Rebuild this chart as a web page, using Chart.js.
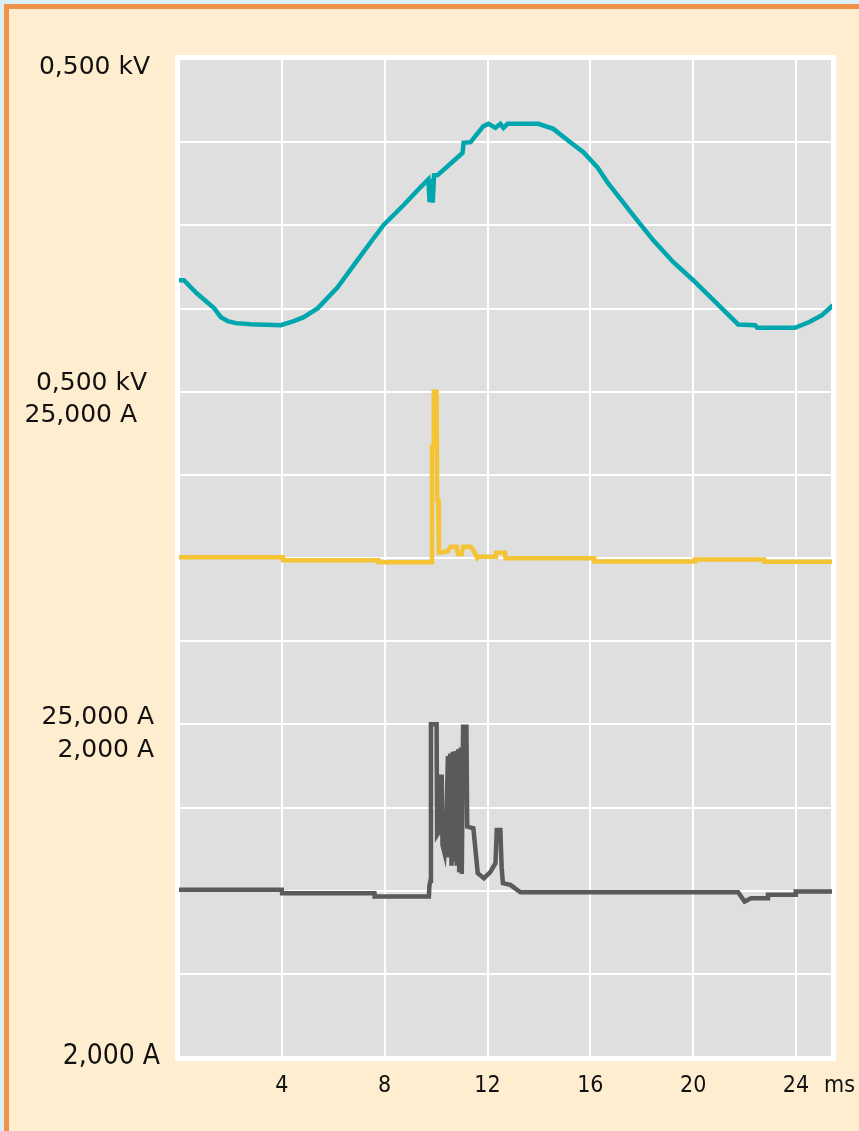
<!DOCTYPE html>
<html>
<head>
<meta charset="utf-8">
<script src="https://cdn.jsdelivr.net/npm/chart.js@4/dist/chart.umd.min.js"></script>
<style>
  body { margin: 0; background: #dbeef3; width: 859px; height: 1131px; overflow: hidden; }
  .frame { position: absolute; left: 4px; top: 4px; width: 855px; height: 1127px; box-sizing: border-box;
           border-left: 5px solid #ef9149; border-top: 5px solid #ef9149; background: #feedcf; }
  #scope { position: absolute; left: 0; top: 0; }
</style>
</head>
<body>
<div class="frame"></div>
<canvas id="scope" width="859" height="1131"></canvas>
<script>
// channel 1: line voltage (kV)
const timeV = [0, 0.19, 0.7, 1.36, 1.63, 1.9, 2.21, 2.8, 3.96, 4.47, 4.85, 5.40, 6.17, 6.95, 7.46, 7.96, 8.74, 9.40,
  9.70, 9.75, 9.83, 9.87, 9.92, 10.06, 10.60, 11.03, 11.07, 11.34, 11.84, 12.04, 12.31, 12.50, 12.62, 12.78, 13.98,
  14.56, 15.22, 15.73, 16.27, 16.66, 17.67, 18.45, 19.22, 20.00, 21.75, 22.41, 22.49, 23.96, 24.54, 25.01, 25.44];
const voltageKV = [-0.165, -0.165, -0.205, -0.249, -0.276, -0.288, -0.294, -0.297, -0.300, -0.288, -0.276, -0.249, -0.186,
  -0.104, -0.050, 0.001, 0.061, 0.115, 0.138, 0.070, 0.140, 0.068, 0.150, 0.151, 0.188, 0.218, 0.248, 0.250, 0.298,
  0.305, 0.293, 0.305, 0.293, 0.305, 0.305, 0.290, 0.250, 0.220, 0.175, 0.130, 0.030, -0.045, -0.110, -0.165, -0.298,
  -0.300, -0.308, -0.308, -0.290, -0.270, -0.240];

// channel 2: surge current (kA)
const timeIA = [0, 4.04, 4.05, 7.76, 7.77, 9.82, 9.84, 9.89, 9.91, 10.02, 10.04, 10.08, 10.11, 10.45, 10.56, 10.80,
  10.85, 11.00, 11.05, 11.34, 11.45, 11.60, 11.65, 12.31, 12.33, 12.68, 12.70, 16.15, 16.16, 20.05, 20.06, 22.76, 22.77, 25.4];
const currentAkA = [0.1, 0.1, -0.34, -0.34, -0.64, -0.64, 16.7, 16.7, 25, 25, 8.7, 8.7, 0.8, 1.0, 1.7, 1.7,
  0.6, 0.6, 1.7, 1.7, 1.2, 0.0, 0.2, 0.2, 0.8, 0.8, -0.05, -0.05, -0.53, -0.53, -0.22, -0.22, -0.55, -0.55];

// channel 3: residual current (kA)
const timeIB = [0, 4.00, 4.01, 7.60, 7.61, 9.72, 9.74, 9.78, 9.80, 10.02, 10.04, 10.10, 10.14, 10.22, 10.25,
  10.33, 10.40, 10.46, 10.50, 10.55, 10.60, 10.65, 10.70, 10.76, 10.80, 10.86, 10.90, 10.96, 11.00, 11.05,
  11.18, 11.21, 11.45, 11.62, 11.86, 12.10, 12.31, 12.36, 12.50, 12.55, 12.60, 12.89, 13.28, 21.75, 22.00,
  22.25, 22.90, 22.91, 23.98, 23.99, 25.4];
const currentBkA = [0.01, 0.01, -0.03, -0.03, -0.07, -0.07, 0.06, 0.12, 2.0, 2.0, 0.67, 0.70, 1.37, 1.37, 0.55,
  0.45, 0.78, 1.62, 0.40, 1.65, 0.30, 1.67, 0.35, 1.68, 0.30, 1.70, 0.22, 1.72, 0.20, 1.97,
  1.97, 0.77, 0.75, 0.21, 0.15, 0.22, 0.33, 0.73, 0.73, 0.28, 0.09, 0.07, -0.02, -0.02, -0.13,
  -0.09, -0.09, -0.05, -0.05, -0.01, -0.01];

const timeTicks = [4, 8, 12, 16, 20, 24];
const timeMax = 25.4;

// each channel gets 4 divisions, full scale = +/- range
const channelRange = [0.5, 25, 2];
const channelCenter = [10, 6, 2];
const channelColors = ['#00a6ae', '#f5c435', '#5a5a5a'];

function toDivisions(times, values, ch) {
  return times.map((t, i) => ({ x: t, y: channelCenter[ch] + values[i] / channelRange[ch] * 2 }));
}

// scale labels on the left, tied to division values
const sideLabels = [
  { text: '0,500 kV', at: 12, dy: 8, dx: 29, font: '25px "DejaVu Sans"' },
  { text: '0,500 kV', at: 8, dy: -8, dx: 32, font: '25px "DejaVu Sans"' },
  { text: '25,000 A', at: 8, dy: 24, dx: 42, font: '25px "DejaVu Sans"' },
  { text: '25,000 A', at: 4, dy: -7, dx: 25, font: '25px "DejaVu Sans"' },
  { text: '2,000 A', at: 4, dy: 26, dx: 25, font: '25px "DejaVu Sans"' },
  { text: '2,000 A', at: 0, dy: 0, dx: 19, font: '28px "DejaVu Sans Condensed"' }
];

const scopeBackground = {
  id: 'scopeBackground',
  beforeDraw(chart) {
    const { ctx, chartArea: a } = chart;
    ctx.save();
    ctx.fillStyle = '#ffffff';
    ctx.fillRect(a.left - 4, a.top - 4, a.right - a.left + 8, a.bottom - a.top + 8);
    ctx.fillStyle = '#dfdfdf';
    ctx.fillRect(a.left, a.top, a.right - a.left, a.bottom - a.top);
    ctx.restore();
  },
  afterDraw(chart) {
    const { ctx, chartArea: a, scales } = chart;
    ctx.save();
    ctx.fillStyle = '#111111';
    ctx.textAlign = 'right';
    ctx.textBaseline = 'middle';
    sideLabels.forEach(l => {
      ctx.font = l.font;
      ctx.fillText(l.text, a.left - l.dx, scales.y.getPixelForValue(l.at) + l.dy);
    });
    // time unit after the last tick
    ctx.textAlign = 'left';
    ctx.font = '23px "DejaVu Sans Condensed"';
    ctx.fillText('ms', scales.x.getPixelForValue(24) + 28, a.bottom + 29);
    ctx.restore();
  }
};

new Chart(document.getElementById('scope'), {
  type: 'line',
  data: {
    datasets: [
      { data: toDivisions(timeV, voltageKV, 0), borderColor: channelColors[0] },
      { data: toDivisions(timeIA, currentAkA, 1), borderColor: channelColors[1] },
      { data: toDivisions(timeIB, currentBkA, 2), borderColor: channelColors[2] }
    ]
  },
  options: {
    responsive: false,
    animation: false,
    devicePixelRatio: 1,
    layout: { padding: { left: 179, right: 27, top: 59, bottom: 0 } },
    elements: {
      line: { borderWidth: 4.5, tension: 0, borderJoinStyle: 'miter' },
      point: { radius: 0 }
    },
    plugins: { legend: { display: false }, tooltip: { enabled: false } },
    scales: {
      x: {
        type: 'linear',
        min: 0,
        max: timeMax,
        afterBuildTicks: s => { s.ticks = [0, ...timeTicks, timeMax].map(v => ({ value: v })); },
        afterFit: s => { s.height = 1131 - 1057; },
        grid: { color: '#ffffff', lineWidth: 2, drawTicks: false },
        border: { display: false },
        ticks: {
          padding: 15,
          color: '#111111',
          font: { family: 'DejaVu Sans Condensed', size: 23 },
          callback: v => timeTicks.includes(v) ? String(v) : ''
        }
      },
      y: {
        min: 0,
        max: 12,
        afterFit: s => { s.width = 0; },
        grid: { color: '#ffffff', lineWidth: 2, drawTicks: false },
        border: { display: false },
        ticks: { display: false, stepSize: 1 }
      }
    }
  },
  plugins: [scopeBackground]
});
</script>
</body>
</html>
